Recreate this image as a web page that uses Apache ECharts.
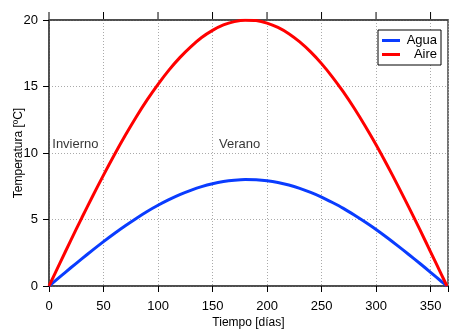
<!DOCTYPE html>
<html>
<head>
<meta charset="utf-8">
<script src="https://cdn.jsdelivr.net/npm/echarts@6/dist/echarts.min.js"></script>
<style>
  html, body { margin: 0; padding: 0; background: #fff; }
  #chart { width: 450px; height: 329px; }
</style>
</head>
<body>
<div id="chart"></div>
<script>
// días del año (eje x)
const dias = [0, 10, 20, 30, 40, 50, 60, 70, 80, 90, 100, 110, 120, 130, 140, 150, 160, 170, 180,
  190, 200, 210, 220, 230, 240, 250, 260, 270, 280, 290, 300, 310, 320, 330, 340, 350, 360, 365];
// temperaturas
const agua = [0, 0.69, 1.37, 2.04, 2.70, 3.34, 3.95, 4.53, 5.08, 5.60, 6.07, 6.49, 6.87, 7.19, 7.47, 7.69, 7.85, 7.95, 8.0,
  7.98, 7.91, 7.78, 7.59, 7.34, 7.04, 6.69, 6.28, 5.84, 5.34, 4.81, 4.25, 3.65, 3.02, 2.37, 1.71, 1.03, 0.34, 0];
const aire = [0, 1.72, 3.43, 5.11, 6.75, 8.34, 9.87, 11.33, 12.71, 13.99, 15.16, 16.23, 17.17, 17.98, 18.68, 19.22, 19.63, 19.88, 19.99,
  19.96, 19.77, 19.44, 18.97, 18.35, 17.60, 16.72, 15.71, 14.59, 13.36, 12.03, 10.62, 9.12, 7.55, 5.93, 4.27, 2.57, 0.86, 0];
// etiquetas de estación
const estaciones = [
  { nombre: 'Invierno', dia: 3, temp: 10.65 },
  { nombre: 'Verano', dia: 156, temp: 10.65 }
];

const font = 'Liberation Sans, Arial, sans-serif';
const chart = echarts.init(document.getElementById('chart'));

const pares = arr => dias.map((d, i) => [d, arr[i]]);

const option = {
  animation: false,
  textStyle: { fontFamily: font },
  grid: {
    left: 49, right: 2, top: 20, bottom: 43,
    outerBoundsMode: 'none', containLabel: false,
    show: true, borderColor: '#444', borderWidth: 1.5, backgroundColor: 'transparent'
  },
  legend: {
    left: 378,
    top: 30,
    orient: 'vertical',
    backgroundColor: '#fff',
    borderColor: '#000',
    borderWidth: 1,
    borderRadius: 0,
    padding: [4, 4, 4, 4],
    itemGap: 1,
    itemWidth: 18,
    itemHeight: 3,
    icon: 'rect',
    formatter: '{t|{name}}',
    textStyle: {
      fontSize: 13, color: '#000', fontFamily: font,
      rich: { t: { width: 32, align: 'right', fontSize: 13, fontFamily: font } }
    },
    data: ['Agua', 'Aire']
  },
  xAxis: [{
    type: 'value',
    min: 0,
    max: 366,
    interval: 50,
    name: 'Tiempo [días]',
    nameLocation: 'middle',
    nameGap: 31,
    nameMoveOverlap: false,
    nameTextStyle: { fontSize: 12, color: '#000', fontFamily: font },
    axisLine: { onZero: false, lineStyle: { color: '#444', width: 1.5 } },
    axisTick: { length: 6, lineStyle: { color: '#000' } },
    axisLabel: {
      fontSize: 13, color: '#000', margin: 14,
      formatter: v => (v % 50 === 0 ? String(v) : '')
    },
    splitLine: { show: true, lineStyle: { color: '#aaa', type: [1, 2] } }
  }, {
    // eje superior: solo marcas
    type: 'value',
    gridIndex: 0,
    position: 'top',
    min: 0,
    max: 366,
    interval: 50,
    axisLine: { show: true, onZero: false, lineStyle: { color: '#444', width: 1.5 } },
    axisTick: { show: false },
    axisLabel: {
      show: true,
      margin: 1,
      hideOverlap: false,
      formatter: v => (v % 50 === 0 ? '{m| }' : ''),
      rich: { m: { width: 1, height: 7, fontSize: 1, backgroundColor: '#000' } }
    },
    splitLine: { show: false }
  }],
  yAxis: [{
    type: 'value',
    min: 0,
    max: 20,
    interval: 5,
    name: 'Temperatura [ºC]',
    nameLocation: 'middle',
    nameGap: 24,
    nameMoveOverlap: false,
    nameTextStyle: { fontSize: 12, color: '#000', fontFamily: font },
    axisLine: { show: true, onZero: false, lineStyle: { color: '#444', width: 1.5 } },
    axisTick: { show: true, length: 6, lineStyle: { color: '#000' } },
    axisLabel: { fontSize: 13, color: '#000', margin: 11 },
    splitLine: { show: true, lineStyle: { color: '#aaa', type: [1, 2] } }
  }],
  series: [{
    name: 'Agua',
    type: 'line',
    data: pares(agua),
    smooth: 0.3,
    showSymbol: false,
    lineStyle: { color: '#0a3cff', width: 3 },
    itemStyle: { color: '#0a3cff' },
    z: 3
  }, {
    name: 'Aire',
    type: 'line',
    data: pares(aire),
    smooth: 0.3,
    showSymbol: false,
    lineStyle: { color: '#ff0000', width: 3 },
    itemStyle: { color: '#ff0000' },
    z: 3
  }, {
    name: 'estaciones',
    type: 'scatter',
    xAxisIndex: 1,
    symbolSize: 0,
    silent: true,
    data: estaciones.map(e => ({ value: [e.dia, e.temp], name: e.nombre })),
    label: {
      show: true,
      position: 'right',
      distance: 0,
      formatter: p => p.name,
      fontSize: 13,
      color: '#000',
      fontFamily: font
    }
  }]
};

chart.setOption(option);
</script>
</body>
</html>
